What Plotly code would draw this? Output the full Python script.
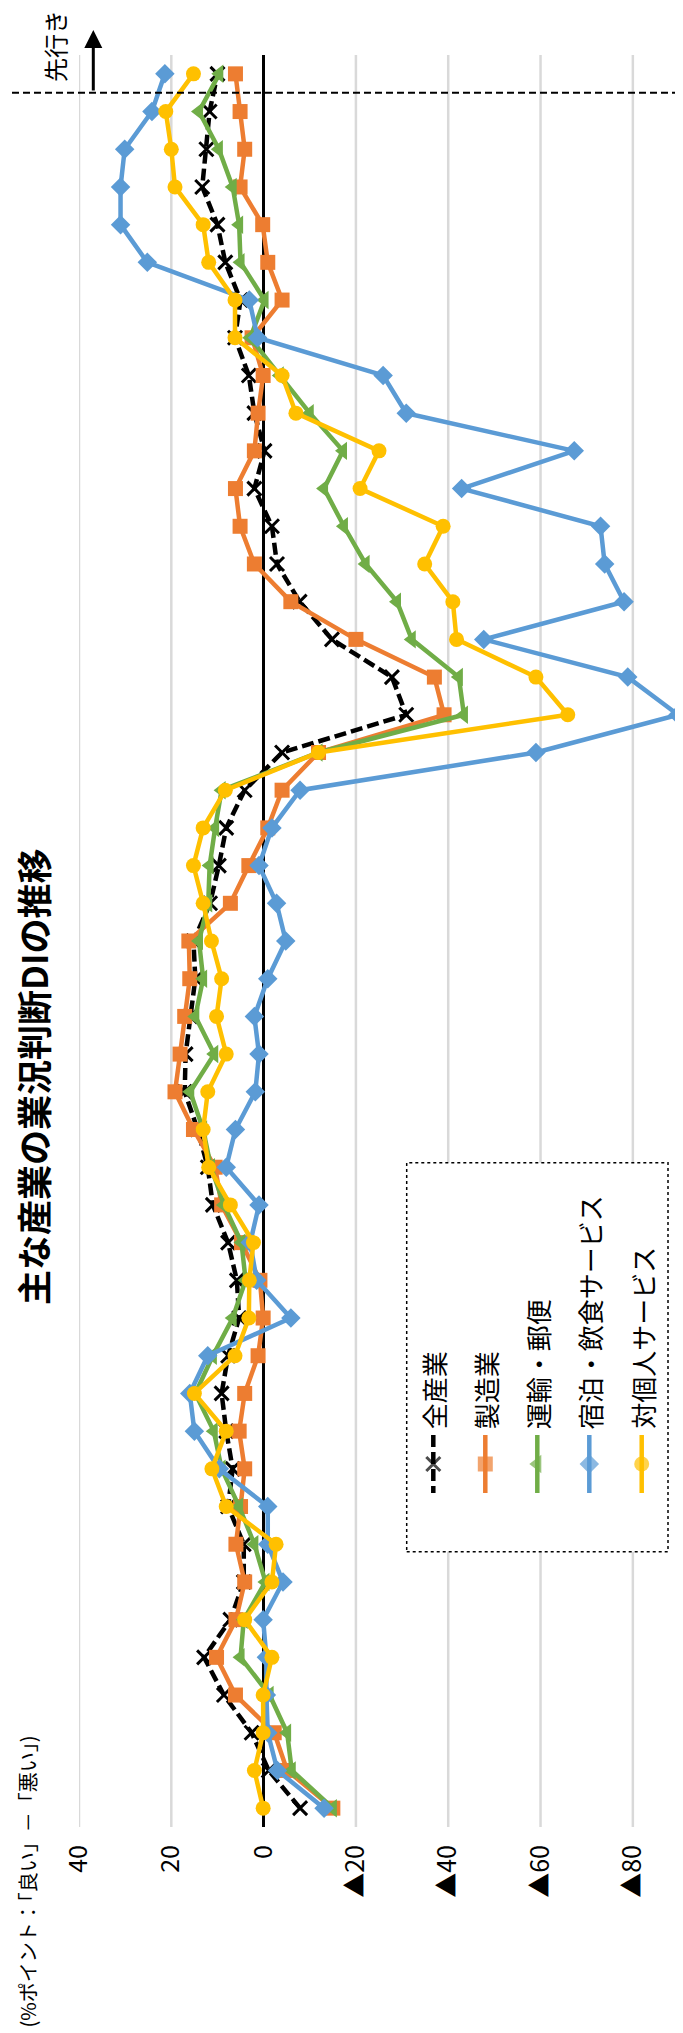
import plotly.graph_objects as go

# ---------------- data ----------------
series_names = ["全産業", "製造業", "運輸・郵便", "宿泊・飲食サービス", "対個人サービス"]

# 47 survey periods, oldest first; the last one is the outlook (先行き)
all_industries = [-7.9, -1.1, 2.6, 8.6, 12.9, 7.2, 4.3, 4.3, 7.7, 6.7,
                  8.1, 9.1, 7.7, 5.3, 5.8, 7.7, 11.0, 12.1, 14.3, 17.1,
                  16.9, 15.9, 14.8, 15.2, 11.6, 9.7, 8.1, 4.1, -4.0, -30.9,
                  -27.8, -14.8, -7.8, -2.9, -1.8, 2.0, -0.2, 2.0, 3.2, 6.2,
                  5.0, 8.3, 10.0, 13.3, 12.4, 11.7, 10.0]
manufacturing = [-15.0, -5.1, -2.3, 6.1, 10.2, 6.0, 4.1, 6.0, 5.0, 4.1,
                 5.3, 4.1, 1.2, 0.1, 0.8, 4.8, 9.1, 10.5, 15.2, 19.2,
                 18.1, 17.1, 16.0, 16.2, 7.2, 3.2, -0.9, -4.0, -11.9, -39.1,
                 -37.0, -20.0, -5.9, 2.0, 5.1, 6.1, 2.0, 1.2, 0.1, 2.5,
                 -4.0, -0.9, 0.2, 5.1, 4.1, 5.1, 6.1]
transport_postal = [-15.0, -6.1, -5.1, -1.3, 5.0, 4.3, -0.4, 2.0, 5.3, 9.1,
                    10.8, 14.8, 11.0, 6.7, 3.9, 4.8, 8.6, 11.4, 13.1, 15.9,
                    10.7, 14.8, 13.1, 14.0, 12.0, 11.7, 10.5, 9.1, -11.9, -43.4,
                    -42.3, -32.1, -28.9, -22.1, -17.4, -13.1, -17.2, -10.0, -3.5, 2.9,
                    -0.2, 5.0, 5.3, 6.7, 9.7, 14.0, 9.6]
lodging_food = [-13.1, -3.0, -0.9, -0.6, -0.6, 0.1, -4.2, -0.9, -0.9, 9.6,
                15.0, 16.0, 12.1, -5.9, 1.5, 2.9, 1.0, 8.1, 6.1, 1.8,
                1.0, 2.0, -0.9, -4.8, -2.8, 1.0, -1.8, -7.9, -59.0, -89.8,
                -78.9, -47.7, -78.1, -73.9, -73.0, -42.9, -67.3, -30.9, -25.9, 1.3,
                3.1, 25.2, 31.0, 31.0, 30.1, 24.2, 21.4]
personal_services = [0.1, 2.0, 0.1, 0.1, -1.8, 4.1, -1.8, -2.7, 8.1, 11.2,
                     8.1, 15.0, 6.2, 3.2, 3.1, 2.2, 7.2, 11.9, 13.1, 12.1,
                     8.1, 10.2, 9.1, 11.3, 13.1, 15.2, 13.1, 8.3, -11.9, -65.9,
                     -59.0, -41.8, -41.0, -34.9, -38.9, -20.9, -25.0, -7.0, -4.0, 6.2,
                     6.2, 11.9, 13.1, 19.2, 20.0, 21.2, 15.2]

value_ticks = [40, 20, 0, -20, -40, -60, -80]
value_tick_labels = ["40", "20", "0", "▲20", "▲40", "▲60", "▲80"]
value_range = [40, -90]

title_text = "主な産業の業況判断DIの推移"
unit_text = "(%ポイント：「良い」－「悪い」)"
outlook_text = "先行き"

# ---------------- styling ----------------
FONT = "Noto Sans CJK JP"
colors = ["#000000", "#ED7D31", "#70AD47", "#5B9BD5", "#FFC000"]
symbols = ["x-thin-open", "square", "triangle-left", "diamond", "circle"]
msizes = [14, 15, 16, 15, 15]
dashes = ["12px,5px", "solid", "solid", "solid", "solid"]
LW = 4.5

# page geometry (the browser adds an 8px body margin around the figure)
OFF = 8
PAGE_W, PAGE_H = 683, 2033
W, H = PAGE_W - OFF, PAGE_H - OFF
PLOT_X0, PLOT_X1, PLOT_Y0, PLOT_Y1 = 79, 679, 55, 1827   # page pixels
L, T = PLOT_X0 - OFF, PLOT_Y0 - OFF
R, B = W - (PLOT_X1 - OFF), H - (PLOT_Y1 - OFF)
PW, PH = W - L - R, H - T - B

LEG_X0, LEG_X1, LEG_Y0, LEG_Y1 = 406.7, 668.0, 1162.7, 1551.7


def px(xp):
    return (xp - PLOT_X0) / PW


def py(yp):
    return (PLOT_Y1 - yp) / PH


def val2px(v):
    return PLOT_X0 + (value_range[0] - v) / (value_range[0] - value_range[1]) * PW


data = [all_industries, manufacturing, transport_postal, lodging_food, personal_services]
n = len(all_industries)
periods = list(range(n))

fig = go.Figure()
for name, vals, c, s, ms, d in zip(series_names, data, colors, symbols, msizes, dashes):
    fig.add_trace(go.Scatter(
        x=vals, y=periods, mode="lines+markers", name=name,
        line=dict(color=c, width=LW, dash=d),
        marker=dict(symbol=s, size=ms, color=c,
                    line=dict(color=c, width=3 if s.startswith("x") else 0)),
        showlegend=False, xaxis="x", yaxis="y", cliponaxis=False,
    ))

# ---------------- hand-drawn (rotated) legend ----------------
leg_cols = [433.3, 485.3, 537.3, 589.3, 641.7]
leg_sample_y = [1435, 1464, 1493]           # page pixels (top, marker, bottom)
for xc, name, c, s, ms, d in zip(leg_cols, series_names, colors, symbols, msizes, dashes):
    fig.add_trace(go.Scatter(
        x=[xc] * 3, y=[PAGE_H - yy for yy in leg_sample_y], mode="lines+markers",
        line=dict(color=c, width=LW, dash=d),
        marker=dict(symbol=s, size=[0, ms, 0], color=c,
                    line=dict(color=c, width=3 if s.startswith("x") else 0)),
        showlegend=False, xaxis="x2", yaxis="y2", hoverinfo="skip",
    ))

annotations = []
for xc, name in zip(leg_cols, series_names):
    annotations.append(dict(
        text=name, x=px(xc), y=py(1431), xref="paper", yref="paper",
        xanchor="center", yanchor="bottom", textangle=-90, showarrow=False,
        font=dict(family=FONT, size=26, color="#000000")))

# title
annotations.append(dict(
    text="<b>" + title_text + "</b>", x=px(32), y=py(1077), xref="paper", yref="paper",
    xanchor="center", yanchor="middle", textangle=-90, showarrow=False,
    font=dict(family=FONT, size=35, color="#000000")))
# unit label
annotations.append(dict(
    text=unit_text, x=px(27.5), y=py(1882), xref="paper", yref="paper",
    xanchor="center", yanchor="middle", textangle=-90, showarrow=False,
    font=dict(family=FONT, size=20, color="#000000")))
# outlook label
annotations.append(dict(
    text=outlook_text, x=px(54), y=py(46), xref="paper", yref="paper",
    xanchor="center", yanchor="middle", textangle=-90, showarrow=False,
    font=dict(family=FONT, size=24, color="#000000")))
# outlook arrow
annotations.append(dict(
    text="", x=px(93.3), y=py(30), xref="paper", yref="paper",
    ax=0, ay=62, showarrow=True, arrowhead=2, arrowsize=1.2, arrowwidth=3,
    arrowcolor="#000000"))

shapes = []
# vertical gridlines (interrupted by the legend frame)
for v in value_ticks:
    if v == 0:
        continue
    xp = val2px(v)
    if LEG_X0 < xp < LEG_X1:
        segs = [(0, py(LEG_Y1)), (py(LEG_Y0), 1)]
    else:
        segs = [(0, 1)]
    for y0, y1 in segs:
        shapes.append(dict(type="line", xref="x", yref="paper", x0=v, x1=v, y0=y0, y1=y1,
                           line=dict(color="#d9d9d9", width=2.5), layer="below"))

# dashed separator between actual values and the outlook
shapes.append(dict(type="line", xref="paper", yref="y", x0=px(12), x1=px(PAGE_W),
                   y0=n - 1.5, y1=n - 1.5, line=dict(color="#000000", width=2, dash="7px,4px")))
# legend frame
shapes.append(dict(type="rect", xref="paper", yref="paper", x0=px(LEG_X0), x1=px(LEG_X1),
                   y0=py(LEG_Y1), y1=py(LEG_Y0), line=dict(color="#000000", width=1.5, dash="dot")))

fig.update_layout(
    width=W, height=H,
    margin=dict(l=L, r=R, t=T, b=B, pad=0),
    paper_bgcolor="white", plot_bgcolor="rgba(0,0,0,0)",
    font=dict(family=FONT, color="#000000"),
    xaxis=dict(range=value_range, tickvals=value_ticks, ticktext=value_tick_labels,
               tickangle=-90, showgrid=False,
               zeroline=True, zerolinecolor="#000000", zerolinewidth=3,
               showline=False, ticks="", ticklabelstandoff=12,
               tickfont=dict(family=FONT, size=25, color="#000000"),
               fixedrange=True),
    yaxis=dict(range=[-0.5, n - 0.5], showgrid=False, zeroline=False,
               showticklabels=False, ticks="", showline=False, fixedrange=True),
    xaxis2=dict(overlaying="x", anchor="y2", range=[PLOT_X0, PLOT_X1], visible=False, fixedrange=True),
    yaxis2=dict(overlaying="y", anchor="x2", range=[PAGE_H - PLOT_Y1, PAGE_H - PLOT_Y0],
                visible=False, fixedrange=True),
    annotations=annotations,
    shapes=shapes,
    showlegend=False,
)

fig.write_html("out.html")
